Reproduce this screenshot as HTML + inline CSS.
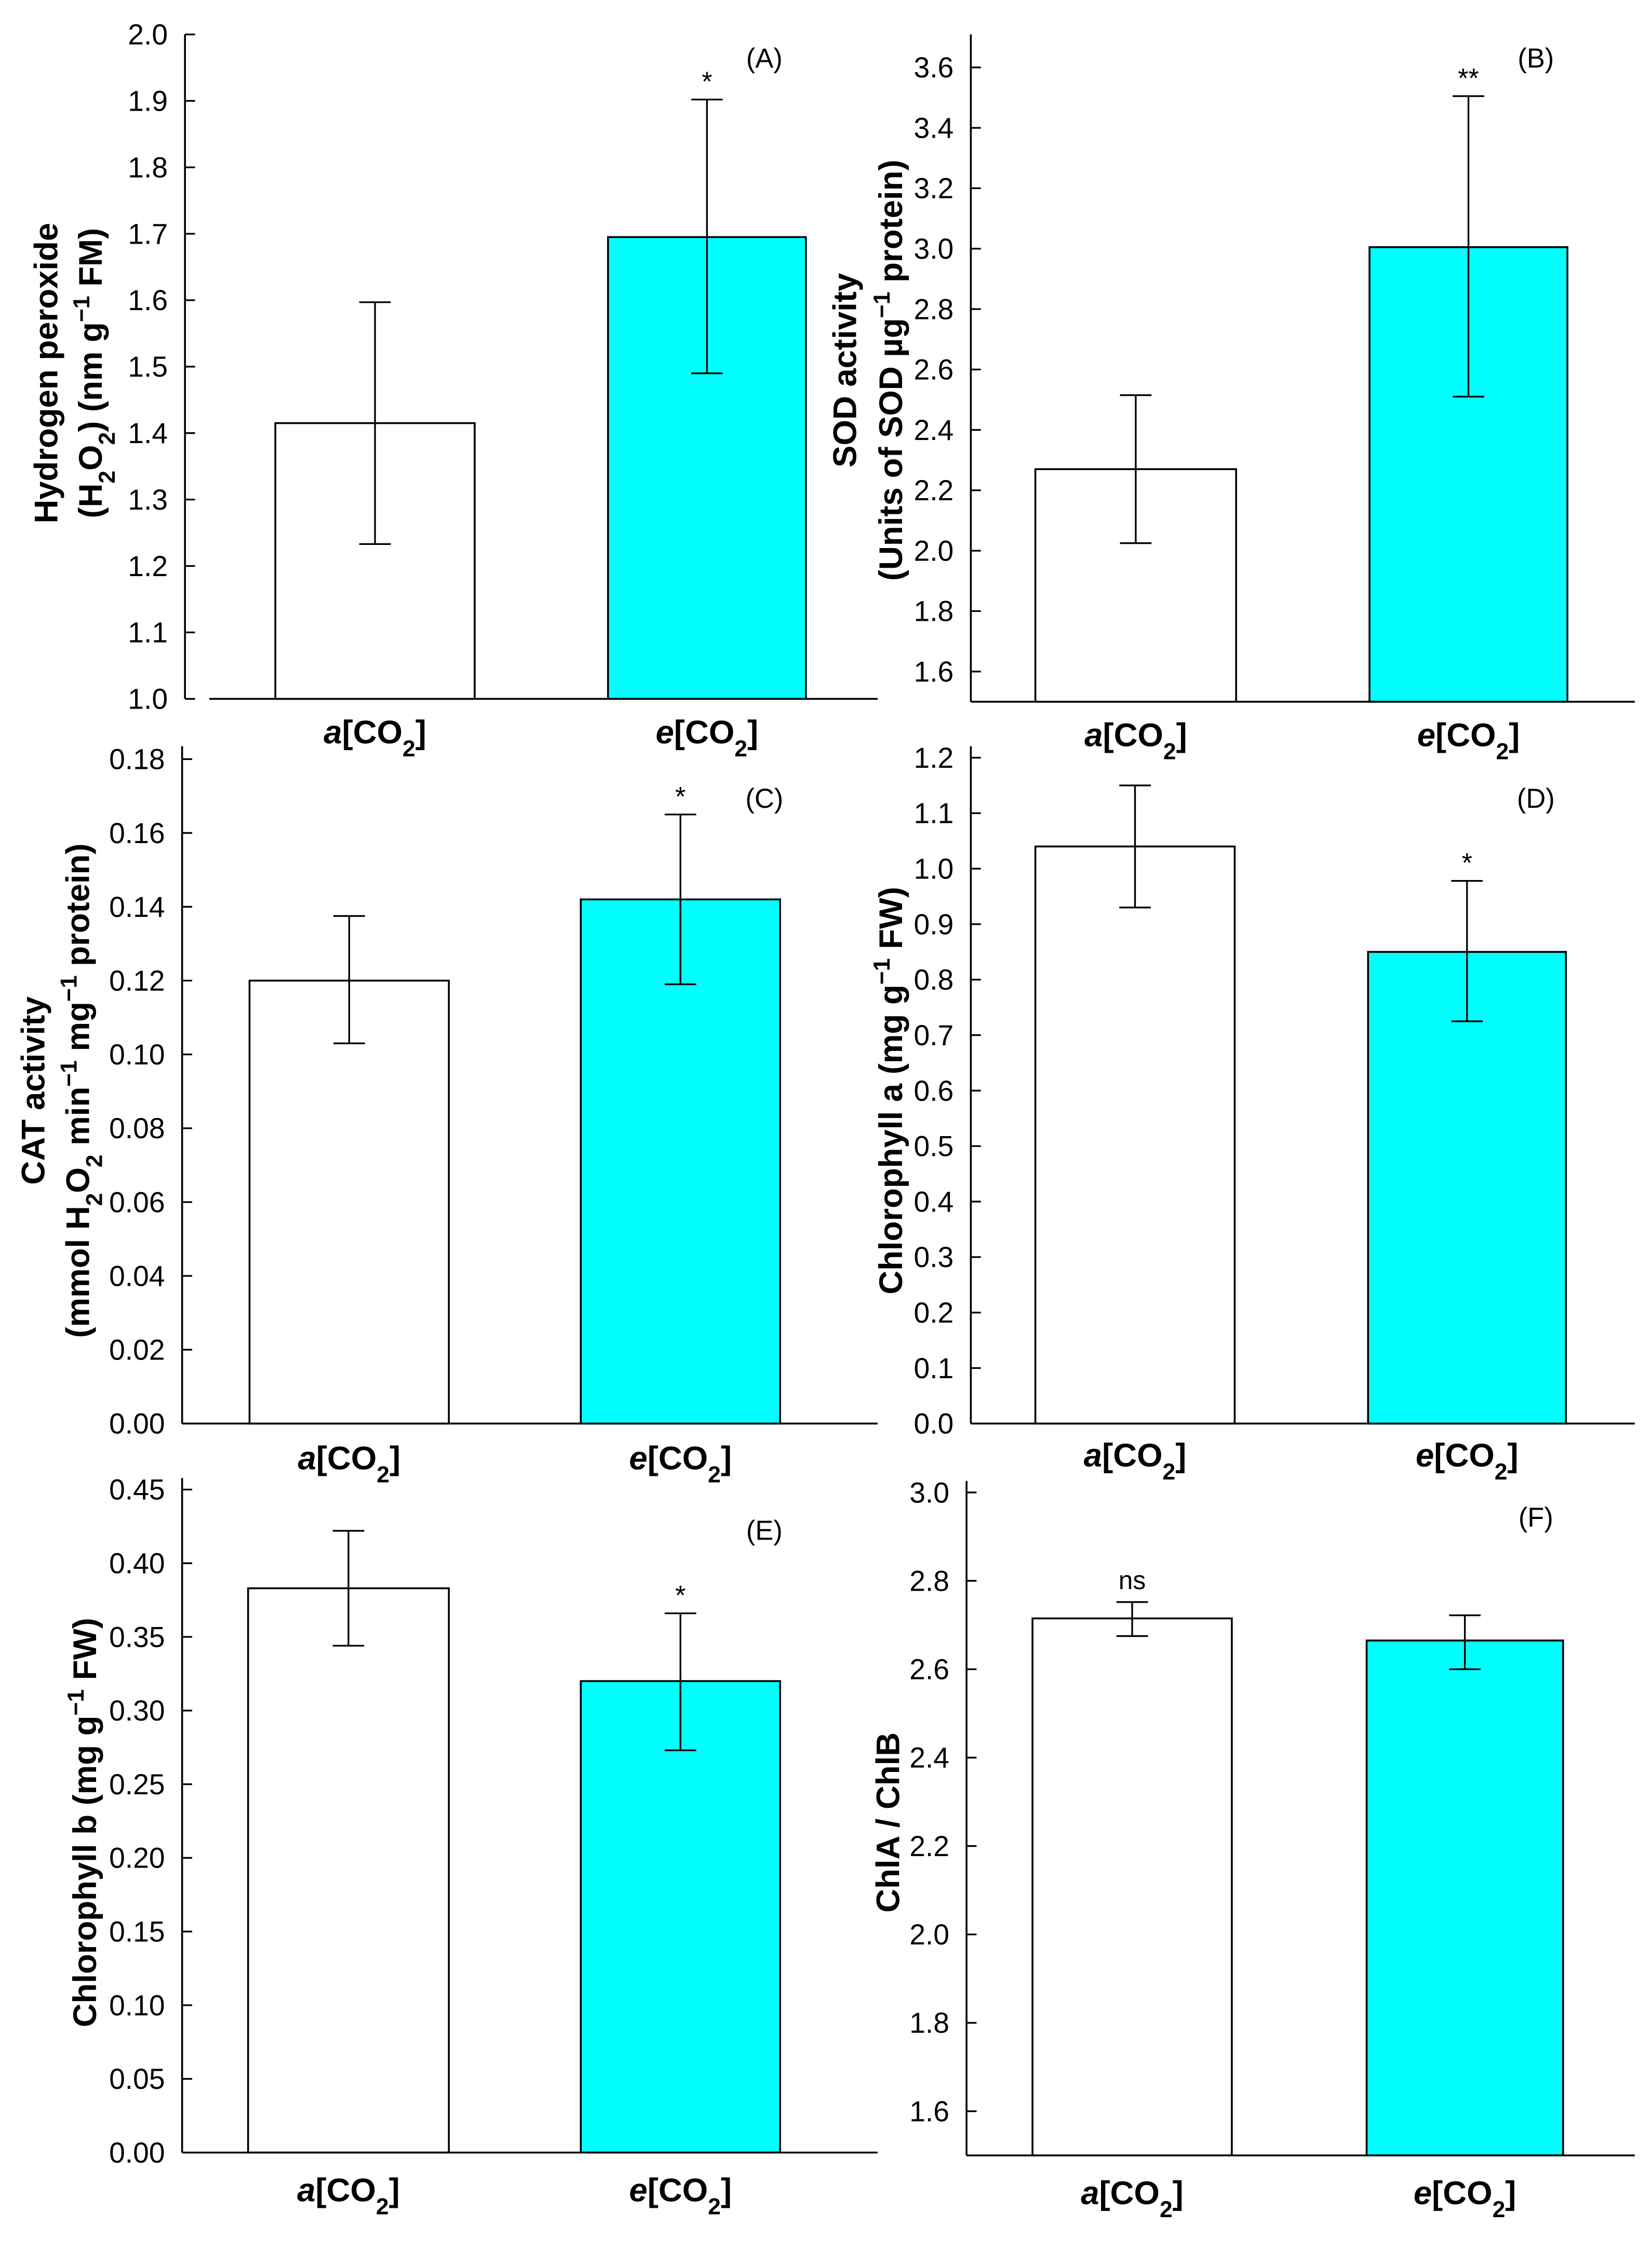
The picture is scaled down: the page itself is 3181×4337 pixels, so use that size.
<!DOCTYPE html>
<html><head><meta charset="utf-8">
<style>
html,body{margin:0;padding:0;background:#fff;}
svg{display:block;}
text{font-family:"Liberation Sans",Arial,sans-serif;fill:#000;}
</style></head>
<body>
<svg id="fig" xmlns="http://www.w3.org/2000/svg" width="3181" height="4337" viewBox="0 0 1152 1570" preserveAspectRatio="none"></svg>
<script>
// ---- data ----
const categories = ["a", "e"];
const meansA = [1.415, 1.695];
const lowA = [1.233, 1.490];
const highA = [1.597, 1.902];
const ticksA = ["1.0","1.1","1.2","1.3","1.4","1.5","1.6","1.7","1.8","1.9","2.0"];
const meansB = [2.27, 3.005];
const lowB = [2.025, 2.51];
const highB = [2.515, 3.505];
const ticksB = ["1.6","1.8","2.0","2.2","2.4","2.6","2.8","3.0","3.2","3.4","3.6"];
const meansC = [0.120, 0.142];
const lowC = [0.103, 0.119];
const highC = [0.1375, 0.165];
const ticksC = ["0.00","0.02","0.04","0.06","0.08","0.10","0.12","0.14","0.16","0.18"];
const meansD = [1.04, 0.85];
const lowD = [0.93, 0.725];
const highD = [1.15, 0.978];
const ticksD = ["0.0","0.1","0.2","0.3","0.4","0.5","0.6","0.7","0.8","0.9","1.0","1.1","1.2"];
const meansE = [0.383, 0.320];
const lowE = [0.344, 0.273];
const highE = [0.422, 0.366];
const ticksE = ["0.00","0.05","0.10","0.15","0.20","0.25","0.30","0.35","0.40","0.45"];
const meansF = [2.715, 2.665];
const lowF = [2.675, 2.60];
const highF = [2.752, 2.722];
const ticksF = ["1.6","1.8","2.0","2.2","2.4","2.6","2.8","3.0"];
const sigA = ["", "*"], sigB = ["", "**"], sigC = ["", "*"], sigD = ["", "*"], sigE = ["", "*"], sigF = ["ns", ""];

const NS = "http://www.w3.org/2000/svg";
const svg = document.getElementById("fig");
function mk(tag, attrs, parent){
  const el = document.createElementNS(NS, tag);
  for (const k in attrs) el.setAttribute(k, attrs[k]);
  (parent || svg).appendChild(el);
  return el;
}
const SUB = '<tspan baseline-shift="sub" font-size="70%">';
const SUP = '<tspan baseline-shift="super" font-size="70%">';
const E = '</tspan>';

const panels = [
 {id:"A", means:meansA, low:lowA, high:highA, ticks:ticksA, sig:sigA, x0:129, xs:146, x1:612, axTop:24, vmin:1.0, vmax:2.0, pMin:487, pMax:24, xLab:510,
  bars:[[192,331],[424,562]], labPos:[533,40],
  titles:[[32,260,'Hydrogen peroxide'],[63,260,'(H'+SUB+'2'+E+'O'+SUB+'2'+E+') (nm g'+SUP+'−1'+E+' FM)']]},
 {id:"B", means:meansB, low:lowB, high:highB, ticks:ticksB, sig:sigB, x0:677, xs:677, x1:1140, axTop:24, vmin:1.5, vmax:3.6, pMin:489, pMax:47, xLab:512,
  bars:[[722,862],[955,1093]], labPos:[1071,40],
  titles:[[589,258,'SOD activity'],[621,258,'(Units of SOD µg'+SUP+'−1'+E+' protein)']]},
 {id:"C", means:meansC, low:lowC, high:highC, ticks:ticksC, sig:sigC, x0:127, xs:127, x1:612, axTop:520, vmin:0, vmax:0.18, pMin:992, pMax:529, xLab:1016,
  bars:[[174,313],[405,544]], labPos:[533,556],
  titles:[[23,760,'CAT activity'],[54,760,'(mmol H'+SUB+'2'+E+'O'+SUB+'2'+E+' min'+SUP+'−1'+E+' mg'+SUP+'−1'+E+' protein)']]},
 {id:"D", means:meansD, low:lowD, high:highD, ticks:ticksD, sig:sigD, x0:677, xs:677, x1:1140, axTop:520, vmin:0, vmax:1.2, pMin:992, pMax:528, xLab:1014,
  bars:[[722,861],[954,1092]], labPos:[1071,556],
  titles:[[621,760,'Chlorophyll a (mg g'+SUP+'−1'+E+' FW)']]},
 {id:"E", means:meansE, low:lowE, high:highE, ticks:ticksE, sig:sigE, x0:127, xs:127, x1:612, axTop:1030, vmin:0, vmax:0.45, pMin:1500, pMax:1038, xLab:1526,
  bars:[[173,313],[405,544]], labPos:[533,1066],
  titles:[[59,1270,'Chlorophyll b (mg g'+SUP+'−1'+E+' FW)']]},
 {id:"F", means:meansF, low:lowF, high:highF, ticks:ticksF, sig:sigF, x0:674, xs:674, x1:1140, axTop:1032, vmin:1.5, vmax:3.0, pMin:1502, pMax:1040, xLab:1528,
  bars:[[720,859],[953,1090]], labPos:[1071,1057],
  titles:[[619,1270,'ChlA / ChlB']]}
];
const fills = ["#ffffff", "#00ffff"];

panels.forEach(p => {
  const g = mk("g", {});
  
  
  const y = v => p.pMin - (v - p.vmin) / (p.vmax - p.vmin) * (p.pMin - p.pMax);
  categories.forEach((c, i) => {
    const [bx0, bx1] = p.bars[i];
    const top = y(p.means[i]);
    const r = mk("rect", {x:bx0, y:top, width:bx1-bx0, height:p.pMin-top, fill:fills[i], stroke:"#000", "stroke-width":1.3}, g);
    
    
    const cx = (bx0 + bx1) / 2;
    const eb = mk("path", {d:`M${cx} ${y(p.low[i])}V${y(p.high[i])}M${cx-11} ${y(p.low[i])}H${cx+11}M${cx-11} ${y(p.high[i])}H${cx+11}`, stroke:"#000", "stroke-width":1.2, fill:"none"}, g);
    
    
    if (p.sig[i]) {
      const s = mk("text", {x:cx, y:y(p.high[i]) - (p.sig[i]==="ns"?9:6), "text-anchor":"middle", "font-size":p.sig[i]==="ns"?18:19}, g);
      s.textContent = p.sig[i];
      
      
    }
    const xl = mk("text", {x:cx, y:p.xLab + 8, "text-anchor":"middle", "font-size":23, "font-weight":"bold"}, g);
    xl.innerHTML = '<tspan font-style="italic">' + c + '</tspan>[CO' + SUB + '2' + E + ']';
    
    
  });
  const ya = mk("line", {x1:p.x0, y1:p.axTop, x2:p.x0, y2:p.pMin, stroke:"#000", "stroke-width":1.3}, g);
  
  
  const xa = mk("line", {x1:p.xs, y1:p.pMin, x2:p.x1, y2:p.pMin, stroke:"#000", "stroke-width":1.3}, g);
  
  
  p.ticks.forEach(t => {
    const ty = y(parseFloat(t));
    mk("line", {x1:p.x0, y1:ty, x2:p.x0+7, y2:ty, stroke:"#000", "stroke-width":1.2}, g);
    const tl = mk("text", {x:p.x0-12, y:ty+7, "text-anchor":"end", "font-size":20}, g);
    tl.textContent = t;
    
    
  });
  const pl = mk("text", {x:p.labPos[0], y:p.labPos[1]+7, "text-anchor":"middle", "font-size":19}, g);
  pl.textContent = "(" + p.id + ")";
  
  
  p.titles.forEach(([tx, ty, html]) => {
    const t = mk("text", {x:tx, y:ty, "text-anchor":"middle", "font-size":23, "font-weight":"bold", transform:`rotate(-90 ${tx} ${ty})`, dy:"0.35em"}, g);
    t.innerHTML = html;
    
    
  });
});
</script>
</body></html>
